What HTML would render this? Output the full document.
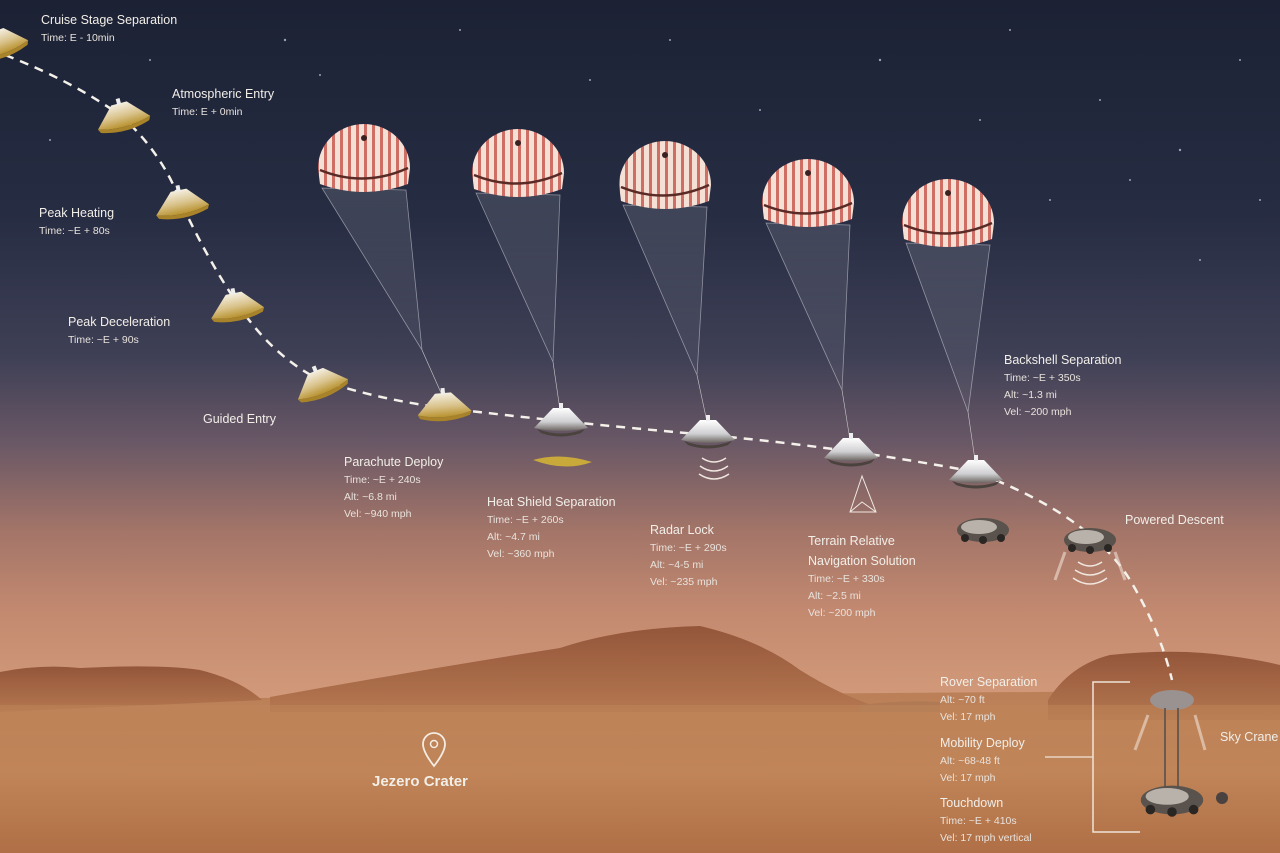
<!DOCTYPE html>
<html><head><meta charset="utf-8"><style>
html,body{margin:0;padding:0;background:#222;}
svg{display:block}
text{font-family:"Liberation Sans",sans-serif;fill:#f2eee8;}
.t{font-size:12.5px;}
.s{font-size:10.5px;fill:#e8e2dc;}
</style></head><body>
<svg width="1280" height="853" viewBox="0 0 1280 853" xmlns="http://www.w3.org/2000/svg">
<defs>
<linearGradient id="sky" x1="0" y1="0" x2="0" y2="1">
<stop offset="0" stop-color="#1c2234"/>
<stop offset="0.25" stop-color="#262c42"/>
<stop offset="0.42" stop-color="#3f4056"/>
<stop offset="0.52" stop-color="#6a5866"/>
<stop offset="0.62" stop-color="#a27468"/>
<stop offset="0.72" stop-color="#c48a70"/>
<stop offset="0.82" stop-color="#d29a7a"/>
<stop offset="1" stop-color="#d29a7a"/>
</linearGradient>
<linearGradient id="ground" x1="0" y1="0" x2="0" y2="1">
<stop offset="0" stop-color="#bb8058"/>
<stop offset="0.5" stop-color="#c08558"/>
<stop offset="1" stop-color="#b06f46"/>
</linearGradient>
<linearGradient id="hill" x1="0" y1="0" x2="0" y2="1">
<stop offset="0" stop-color="#94563a"/>
<stop offset="1" stop-color="#b47750"/>
</linearGradient>
<linearGradient id="gold" x1="0" y1="0" x2="0" y2="1">
<stop offset="0" stop-color="#f4efe2"/>
<stop offset="0.55" stop-color="#d9c28a"/>
<stop offset="1" stop-color="#b8922e"/>
</linearGradient>
<linearGradient id="silver" x1="0" y1="0" x2="0" y2="1">
<stop offset="0" stop-color="#ffffff"/>
<stop offset="0.6" stop-color="#cfcfd2"/>
<stop offset="1" stop-color="#6a6460"/>
</linearGradient>
<pattern id="stripes" width="8" height="10" patternUnits="userSpaceOnUse">
<rect width="8" height="10" fill="#f3dcd0"/>
<rect width="3" height="10" fill="#c85a50"/>
</pattern>
<linearGradient id="shroud" x1="0" y1="0" x2="0" y2="1">
<stop offset="0" stop-color="#ffffff" stop-opacity="0.12"/>
<stop offset="1" stop-color="#ffffff" stop-opacity="0.03"/>
</linearGradient>
<g id="chute">
<path d="M-46,8 A46,44 0 0 1 46,8 L44,24 Q0,40 -44,24 Z" fill="url(#stripes)"/>
<path d="M-46,8 A46,44 0 0 1 46,8 L44,24 Q0,40 -44,24 Z" fill="#ffffff" opacity="0.12"/>
<path d="M-44,10 Q0,28 44,8" stroke="#5a2a26" stroke-width="2.5" fill="none"/>
<circle cx="0" cy="-22" r="3" fill="#3a2222"/>
</g>
<g id="cap">
<path d="M-27,8 L-8,-12 L8,-12 L27,8 Q0,16 -27,8 Z" fill="url(#gold)"/>
<path d="M-27,8 Q0,16 27,8 L25,12 Q0,20 -25,12 Z" fill="#a8832a"/>
<rect x="-2" y="-17" width="4" height="6" fill="#eee"/>
</g>
<g id="scap">
<path d="M-27,8 L-8,-12 L8,-12 L27,8 Q0,14 -27,8 Z" fill="url(#silver)"/>
<path d="M-24,9 Q0,18 24,9 L20,13 Q0,20 -20,13 Z" fill="#4a423c"/>
<rect x="-2" y="-17" width="4" height="6" fill="#eee"/>
</g>
<g id="rover">
<ellipse cx="0" cy="0" rx="26" ry="12" fill="#5a524c"/>
<ellipse cx="-4" cy="-3" rx="18" ry="7" fill="#b8b2aa"/>
<circle cx="-18" cy="8" r="4" fill="#2a2624"/><circle cx="0" cy="10" r="4" fill="#2a2624"/><circle cx="18" cy="8" r="4" fill="#2a2624"/>
</g>
</defs>
<rect width="1280" height="853" fill="url(#sky)"/>
<g fill="#cfd6e8" opacity="0.7">
<circle cx="285" cy="40" r="1.2"/><circle cx="320" cy="75" r="1"/><circle cx="50" cy="140" r="1"/><circle cx="670" cy="40" r="1"/><circle cx="880" cy="60" r="1.2"/><circle cx="1010" cy="30" r="1"/><circle cx="1100" cy="100" r="1"/><circle cx="1180" cy="150" r="1.2"/><circle cx="1240" cy="60" r="1"/><circle cx="760" cy="110" r="1"/><circle cx="1050" cy="200" r="1"/><circle cx="1200" cy="260" r="1"/><circle cx="590" cy="80" r="1"/><circle cx="460" cy="30" r="1"/><circle cx="1130" cy="180" r="1"/><circle cx="980" cy="120" r="1"/><circle cx="150" cy="60" r="1"/><circle cx="1260" cy="200" r="1"/>
</g>
<path d="M0,700 L1280,690 L1280,853 L0,853 Z" fill="url(#ground)"/>
<path d="M0,672 Q40,664 80,668 Q160,664 200,670 Q240,680 262,700 L0,712 Z" fill="url(#hill)"/>
<path d="M270,697 Q420,670 560,648 Q620,628 700,626 Q760,640 800,670 Q840,695 880,708 L880,712 L270,712 Z" fill="url(#hill)"/>
<path d="M860,705 Q900,700 940,702 L940,712 L860,712 Z" fill="#b07a55"/>
<path d="M1048,700 Q1070,665 1110,655 Q1180,648 1230,656 Q1260,660 1280,665 L1280,720 L1048,720 Z" fill="url(#hill)"/>
<rect x="0" y="705" width="1280" height="30" fill="#c08558" opacity="0.5"/>
<path d="M5,55 Q70,80 120,115 Q160,150 180,200 Q205,255 235,300 Q270,355 320,380 Q380,400 445,408 Q560,422 708,435 Q850,448 975,472 Q1090,515 1130,580 Q1160,630 1172,680" stroke="#f4f0ea" stroke-width="2.5" fill="none" stroke-dasharray="9,7"/>
<use href="#cap" transform="translate(0,42) rotate(-20)"/>
<use href="#cap" transform="translate(122,115) rotate(-15)"/>
<use href="#cap" transform="translate(181,202) rotate(-12)"/>
<use href="#cap" transform="translate(236,305) rotate(-12)"/>
<use href="#cap" transform="translate(320,382) rotate(-22)"/>
<g>
<path d="M322,188 L422,350 L406,190 Z" fill="url(#shroud)" stroke="#e8e8ee" stroke-opacity="0.5" stroke-width="0.8"/>
<line x1="422" y1="350" x2="442" y2="395" stroke="#ccc" stroke-width="0.6"/>
<use href="#chute" transform="translate(364,160)"/>
<use href="#cap" transform="translate(444,405) rotate(-5)"/>
<path d="M476,193 L553,362 L560,195 Z" fill="url(#shroud)" stroke="#e8e8ee" stroke-opacity="0.5" stroke-width="0.8"/>
<line x1="553" y1="362" x2="560" y2="410" stroke="#ccc" stroke-width="0.6"/>
<use href="#chute" transform="translate(518,165)"/>
<use href="#scap" transform="translate(561,420)"/>
<path d="M533,460 Q560,452 592,462 Q565,472 533,460 Z" fill="#c9a93a"/>
<path d="M623,205 L697,375 L707,207 Z" fill="url(#shroud)" stroke="#e8e8ee" stroke-opacity="0.5" stroke-width="0.8"/>
<line x1="697" y1="375" x2="707" y2="422" stroke="#ccc" stroke-width="0.6"/>
<use href="#chute" transform="translate(665,177)"/>
<use href="#scap" transform="translate(708,432)"/>
<path d="M766,223 L842,390 L850,225 Z" fill="url(#shroud)" stroke="#e8e8ee" stroke-opacity="0.5" stroke-width="0.8"/>
<line x1="842" y1="390" x2="850" y2="440" stroke="#ccc" stroke-width="0.6"/>
<use href="#chute" transform="translate(808,195)"/>
<use href="#scap" transform="translate(851,450)"/>
<path d="M906,243 L968,412 L990,245 Z" fill="url(#shroud)" stroke="#e8e8ee" stroke-opacity="0.5" stroke-width="0.8"/>
<line x1="968" y1="412" x2="975" y2="460" stroke="#ccc" stroke-width="0.6"/>
<use href="#chute" transform="translate(948,215)"/>
<use href="#scap" transform="translate(976,472)"/>
</g>
<g stroke="#f0e8e0" stroke-width="1.5" fill="none">
<path d="M702,458 Q714,466 726,458"/><path d="M700,466 Q714,476 728,466"/><path d="M699,474 Q714,484 729,474"/>
<path d="M1078,562 Q1090,570 1102,562"/><path d="M1075,570 Q1090,580 1105,570"/><path d="M1073,578 Q1090,590 1107,578"/>
<path d="M862,476 L850,512 L876,512 Z M850,512 L862,502 L876,512" stroke-width="1"/>
</g>
<use href="#rover" transform="translate(983,530)"/>
<use href="#rover" transform="translate(1090,540)"/>
<g stroke="#f0e0d4" stroke-width="3" opacity="0.6">
<line x1="1065" y1="552" x2="1055" y2="580"/><line x1="1115" y1="552" x2="1125" y2="580"/>
<line x1="1148" y1="715" x2="1135" y2="750"/><line x1="1195" y1="715" x2="1205" y2="750"/>
</g>
<ellipse cx="1172" cy="700" rx="22" ry="10" fill="#9a9290"/>
<line x1="1165" y1="708" x2="1165" y2="790" stroke="#6a5a50" stroke-width="2"/>
<line x1="1178" y1="708" x2="1178" y2="790" stroke="#6a5a50" stroke-width="2"/>
<use href="#rover" transform="translate(1172,800) scale(1.2)"/>
<circle cx="1222" cy="798" r="6" fill="#4a4240"/>
<path d="M1130,682 L1093,682 L1093,832 L1140,832" stroke="#f0e4d8" stroke-width="1.5" fill="none"/>
<line x1="1045" y1="757" x2="1093" y2="757" stroke="#f0e4d8" stroke-width="1.2"/>
<path d="M434,766 Q423,752 423,744 A11,11 0 0 1 445,744 Q445,752 434,766 Z" stroke="#f4ece4" stroke-width="1.8" fill="none"/>
<circle cx="434" cy="744" r="3.5" stroke="#f4ece4" stroke-width="1.5" fill="none"/>
<text x="372" y="786" style="font-size:15px;font-weight:bold">Jezero Crater</text>
<text class="t" x="41" y="24">Cruise Stage Separation</text>
<text class="s" x="41" y="41">Time: E - 10min</text>
<text class="t" x="172" y="98">Atmospheric Entry</text>
<text class="s" x="172" y="115">Time: E + 0min</text>
<text class="t" x="39" y="217">Peak Heating</text>
<text class="s" x="39" y="234">Time: ~E + 80s</text>
<text class="t" x="68" y="326">Peak Deceleration</text>
<text class="s" x="68" y="343">Time: ~E + 90s</text>
<text class="t" x="203" y="423">Guided Entry</text>
<text class="t" x="344" y="466">Parachute Deploy</text>
<text class="s" x="344" y="483">Time: ~E + 240s</text>
<text class="s" x="344" y="500">Alt: ~6.8 mi</text>
<text class="s" x="344" y="517">Vel: ~940 mph</text>
<text class="t" x="487" y="506">Heat Shield Separation</text>
<text class="s" x="487" y="523">Time: ~E + 260s</text>
<text class="s" x="487" y="540">Alt: ~4.7 mi</text>
<text class="s" x="487" y="557">Vel: ~360 mph</text>
<text class="t" x="650" y="534">Radar Lock</text>
<text class="s" x="650" y="551">Time: ~E + 290s</text>
<text class="s" x="650" y="568">Alt: ~4-5 mi</text>
<text class="s" x="650" y="585">Vel: ~235 mph</text>
<text class="t" x="808" y="545">Terrain Relative</text>
<text class="t" x="808" y="565">Navigation Solution</text>
<text class="s" x="808" y="582">Time: ~E + 330s</text>
<text class="s" x="808" y="599">Alt: ~2.5 mi</text>
<text class="s" x="808" y="616">Vel: ~200 mph</text>
<text class="t" x="1004" y="364">Backshell Separation</text>
<text class="s" x="1004" y="381">Time: ~E + 350s</text>
<text class="s" x="1004" y="398">Alt: ~1.3 mi</text>
<text class="s" x="1004" y="415">Vel: ~200 mph</text>
<text class="t" x="1125" y="524">Powered Descent</text>
<text class="t" x="940" y="686">Rover Separation</text>
<text class="s" x="940" y="703">Alt: ~70 ft</text>
<text class="s" x="940" y="720">Vel: 17 mph</text>
<text class="t" x="940" y="747">Mobility Deploy</text>
<text class="s" x="940" y="764">Alt: ~68-48 ft</text>
<text class="s" x="940" y="781">Vel: 17 mph</text>
<text class="t" x="940" y="807">Touchdown</text>
<text class="s" x="940" y="824">Time: ~E + 410s</text>
<text class="s" x="940" y="841">Vel: 17 mph vertical</text>
<text class="t" x="1220" y="741">Sky Crane</text>
</svg>
</body></html>
